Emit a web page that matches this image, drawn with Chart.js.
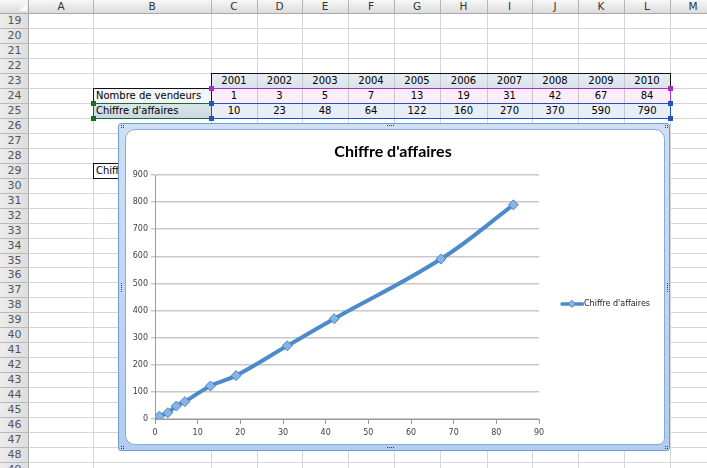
<!DOCTYPE html>
<html><head><meta charset="utf-8">
<script src="https://cdn.jsdelivr.net/npm/chart.js@4/dist/chart.umd.min.js"></script>
<style>
html,body{margin:0;padding:0;background:#fff;}
#sheet{position:relative;width:707px;height:468px;overflow:hidden;font-family:"DejaVu Sans",sans-serif;background:#fff;}
.a{position:absolute;box-sizing:border-box;}
.t{position:absolute;box-sizing:border-box;white-space:nowrap;overflow:visible;font-size:10px;line-height:15px;color:#000;}
</style></head><body><div id="sheet"></div>
<script>
// ---- data ----
const categories = ['2001','2002','2003','2004','2005','2006','2007','2008','2009','2010'];
const vendeurs = [1, 3, 5, 7, 13, 19, 31, 42, 67, 84];
const chiffre = [10, 23, 48, 64, 122, 160, 270, 370, 590, 790];
const rowLabels = ['Nombre de vendeurs', "Chiffre d'affaires"];
const seriesName = "Chiffre d'affaires";
const columnLetters = ['A','B','C','D','E','F','G','H','I','J','K','L','M'];
const firstRow = 19, lastRow = 49;
const xTickMin = 0, xTickMax = 90, xTickStep = 10;
const yTickMin = 0, yTickMax = 900, yTickStep = 100;

// ---- spreadsheet ----
const sheet = document.getElementById('sheet');
const colX = [29, 93, 211, 257, 302, 348, 394, 440, 487, 532, 578, 624, 670, 716];
const rowTop = n => Math.round(13.3 + (n - firstRow) * 14.95);
function el(cls, css, text){ const d=document.createElement('div'); d.className=cls; Object.assign(d.style, css); if(text!==undefined) d.textContent=text; sheet.appendChild(d); return d; }
function px(v){ return v + 'px'; }

// grid lines
for (let i = 1; i < colX.length; i++) el('a', {left:px(colX[i]), top:'13px', width:'1px', height:'460px', background:'#d6d6d6'});
for (let n = firstRow; n <= lastRow; n++) el('a', {left:'29px', top:px(rowTop(n)), width:'700px', height:'1px', background:'#d6d6d6'});

// column header
el('a', {left:'0', top:'0', width:'707px', height:'14px', background:'linear-gradient(#f7f7f7,#dcdcdc)', borderBottom:'1px solid #a9a9a9'});
for (let i = 0; i < columnLetters.length; i++) {
  el('a', {left:px(colX[i+1]), top:'0', width:'1px', height:'13px', background:'#b4b4b4'});
  el('t', {left:px(colX[i]), top:'-1px', width:px(colX[i+1]-colX[i]), textAlign:'center', fontSize:'10.5px', color:'#333'}, columnLetters[i]);
}
// corner
el('a', {left:'0', top:'0', width:'29px', height:'14px', background:'linear-gradient(#f7f7f7,#dcdcdc)', borderRight:'1px solid #a9a9a9', borderBottom:'1px solid #a9a9a9'});
el('a', {left:'19px', top:'3px', width:'0', height:'0', borderLeft:'8px solid transparent', borderBottom:'8px solid #fafafa'});
// row header
el('a', {left:'0', top:'14px', width:'29px', height:'460px', background:'linear-gradient(90deg,#ececec,#dedede)', borderRight:'1px solid #a9a9a9'});
for (let n = firstRow; n <= lastRow; n++) {
  el('a', {left:'0', top:px(rowTop(n+1)), width:'29px', height:'1px', background:'#b8b8b8'});
  el('t', {left:'0', top:px(rowTop(n)), width:'29px', textAlign:'center', fontSize:'11px', color:'#555', lineHeight:'15px'}, String(n));
}

// data table
const r23 = rowTop(23), r24 = rowTop(24), r25 = rowTop(25), r26 = rowTop(26);
const left = colX[2], right = colX[12];
el('a', {left:px(left), top:px(r23), width:px(right-left+1), height:px(r24-r23+1), background:'linear-gradient(#e9eef4,#d8e1ea)'});
el('a', {left:px(left), top:px(r24), width:px(right-left+1), height:px(r25-r24+1), background:'#fcedfa'});
el('a', {left:px(left), top:px(r25), width:px(right-left+1), height:px(r26-r25+1), background:'#e8eef8'});
for (let i = 3; i < 12; i++) el('a', {left:px(colX[i]), top:px(r23), width:'1px', height:px(r26-r23), background:'#c4c8cc'});
el('a', {left:px(left), top:px(r23), width:px(right-left+1), height:px(r26-r23+1), border:'1px solid #111'});
el('a', {left:px(left), top:px(r24), width:px(right-left+1), height:px(r25-r24+1), border:'1.5px solid #a72fc4'});
el('a', {left:px(left), top:px(r25), width:px(right-left+1), height:px(r26-r25+1), border:'1.5px solid #2553bb'});
for (let i = 0; i < categories.length; i++) {
  const l = colX[i+2], w = colX[i+3]-colX[i+2];
  el('t', {left:px(l), top:px(r23), width:px(w), textAlign:'center'}, categories[i]);
  el('t', {left:px(l), top:px(r24), width:px(w), textAlign:'center'}, String(vendeurs[i]));
  el('t', {left:px(l), top:px(r25), width:px(w), textAlign:'center'}, String(chiffre[i]));
}
// row labels
el('a', {left:px(colX[1]), top:px(r24), width:px(colX[2]-colX[1]+1), height:px(r25-r24+1), background:'#f3f6f9', border:'1px solid #111'});
el('a', {left:px(colX[1]), top:px(r25), width:px(colX[2]-colX[1]+1), height:px(r26-r25+1), background:'linear-gradient(#dae4ea,#cbd8df)', border:'1.5px solid #1c6a2a'});
el('t', {left:px(colX[1]+3), top:px(r24)}, rowLabels[0]);
el('t', {left:px(colX[1]+3), top:px(r25)}, rowLabels[1]);
// handles
function sq(x,y,c){ el('a', {left:px(x-2), top:px(y-2), width:'5px', height:'5px', background:c}); }
sq(left, r24, '#a72fc4'); sq(right, r24, '#a72fc4');
sq(left, r25, '#2553bb'); sq(right, r25, '#2553bb'); sq(left, r26, '#2553bb'); sq(right, r26, '#2553bb');
sq(colX[1], r25, '#1c6a2a'); sq(colX[1], r26, '#1c6a2a');
// B29
const r29 = rowTop(29), r30 = rowTop(30);
el('a', {left:px(colX[1]), top:px(r29), width:'40px', height:px(r30-r29+1), border:'1px solid #111'});
el('t', {left:px(colX[1]+3), top:px(r29)}, seriesName);

// ---- chart frame ----
el('a', {left:'118px', top:'123px', width:'552px', height:'328px', background:'linear-gradient(#cfe0f5,#b3cdee)', border:'1px solid #6f9ad3', borderRadius:'3px', zIndex:5});
el('a', {left:'125px', top:'129px', width:'540px', height:'316px', background:'#fff', border:'1px solid #86aadb', borderRadius:'10px 10px 7px 10px', zIndex:6});
function dots(x, y, n, vertical){ for (let k=0;k<n;k++) el('a', {left:px(vertical?x:x+k*2), top:px(vertical?y+k*2:y), width:'1px', height:'1px', background:'#1f3f80', zIndex:7}); }
dots(121,125,2,false); dots(121,127,2,false);
dots(665,125,2,false); dots(665,127,2,false);
dots(121,446,2,false); dots(121,448,2,false);
dots(665,446,2,false); dots(665,448,2,false);
dots(387,125,4,false); dots(387,447,4,false);
dots(121,283,5,true); dots(667,283,5,true);

const wrap = el('a', {left:'126px', top:'130px', width:'538px', height:'314px', zIndex:8});
const cv = document.createElement('canvas'); cv.width = 538; cv.height = 314; cv.style.width='538px'; cv.style.height='314px';
wrap.appendChild(cv);

const lineColor = '#4d8acb', markerFill = '#86b4e6', markerBorder = '#4a85c6';
const legendFontSize = 8, legendPad = 19, legendBox = 22;
const mctx = document.createElement('canvas').getContext('2d');
mctx.font = legendFontSize + 'px "DejaVu Sans"';
const tw = mctx.measureText(seriesName).width;
const chartRight = 413;
const padRight = Math.max(0, 538 - chartRight - (legendPad + legendBox + legendFontSize/2 + tw + 10));

const legendImg = document.createElement('canvas'); legendImg.width = 30; legendImg.height = 10;
(function(){ const c = legendImg.getContext('2d'); c.strokeStyle = lineColor; c.lineWidth = 3.5; c.lineCap='round';
  c.beginPath(); c.moveTo(8,5); c.lineTo(28.5,5); c.stroke();
  c.fillStyle = markerFill; c.strokeStyle = markerBorder; c.lineWidth = 1;
  c.beginPath(); c.moveTo(18,1.5); c.lineTo(21.5,5); c.lineTo(18,8.5); c.lineTo(14.5,5); c.closePath(); c.fill(); c.stroke(); })();

Chart.defaults.font.family = 'DejaVu Sans';
new Chart(cv, {
  type: 'scatter',
  data: { datasets: [{
    label: seriesName,
    data: vendeurs.map((x, i) => ({x: x, y: chiffre[i]})),
    showLine: true, tension: 0.4,
    borderColor: lineColor, borderWidth: 4,
    pointStyle: 'rectRot', pointRadius: 5, pointBackgroundColor: markerFill, pointBorderColor: markerBorder, pointBorderWidth: 1,
    backgroundColor: markerFill
  }]},
  options: {
    responsive: false, animation: false, devicePixelRatio: 1,
    layout: { padding: { left: 0, top: 0, right: padRight, bottom: 0 } },
    plugins: {
      tooltip: { enabled: false },
      title: { display: true, text: seriesName, color: '#000', font: { family: 'Lato', size: 16, weight: 'bold', lineHeight: 1.2 }, padding: { top: 12.5, bottom: 13.3 } },
      legend: { display: true, position: 'right',
        title: { display: true, text: ' ', font: { size: 10, lineHeight: 1.2 }, padding: { top: 11, bottom: 11 } },
        labels: { usePointStyle: true, pointStyleWidth: legendBox, padding: legendPad, color: '#222', font: { size: legendFontSize },
          generateLabels: (chart) => chart.data.datasets.map((d, i) => ({ text: d.label, pointStyle: legendImg, datasetIndex: i, lineWidth: 0, fontColor: '#222' })) } }
    },
    scales: {
      x: { type: 'linear', min: xTickMin, max: xTickMax,
        ticks: { stepSize: xTickStep, color: '#404040', font: { size: 8 }, padding: 4 },
        grid: { drawOnChartArea: false, drawTicks: true, tickLength: 5, color: '#9a9a9a', lineWidth: 1 },
        border: { color: '#9a9a9a', width: 1 },
        afterFit(s) { s.height = 25; } },
      y: { min: yTickMin, max: yTickMax,
        ticks: { stepSize: yTickStep, color: '#404040', font: { size: 8 }, padding: 3 },
        grid: { color: '#c8c8c8', lineWidth: 1.5, tickLength: 4, drawTicks: true },
        border: { color: '#9a9a9a', width: 1 },
        afterFit(s) { s.width = 29; } }
    }
  }
});
</script></body></html>
